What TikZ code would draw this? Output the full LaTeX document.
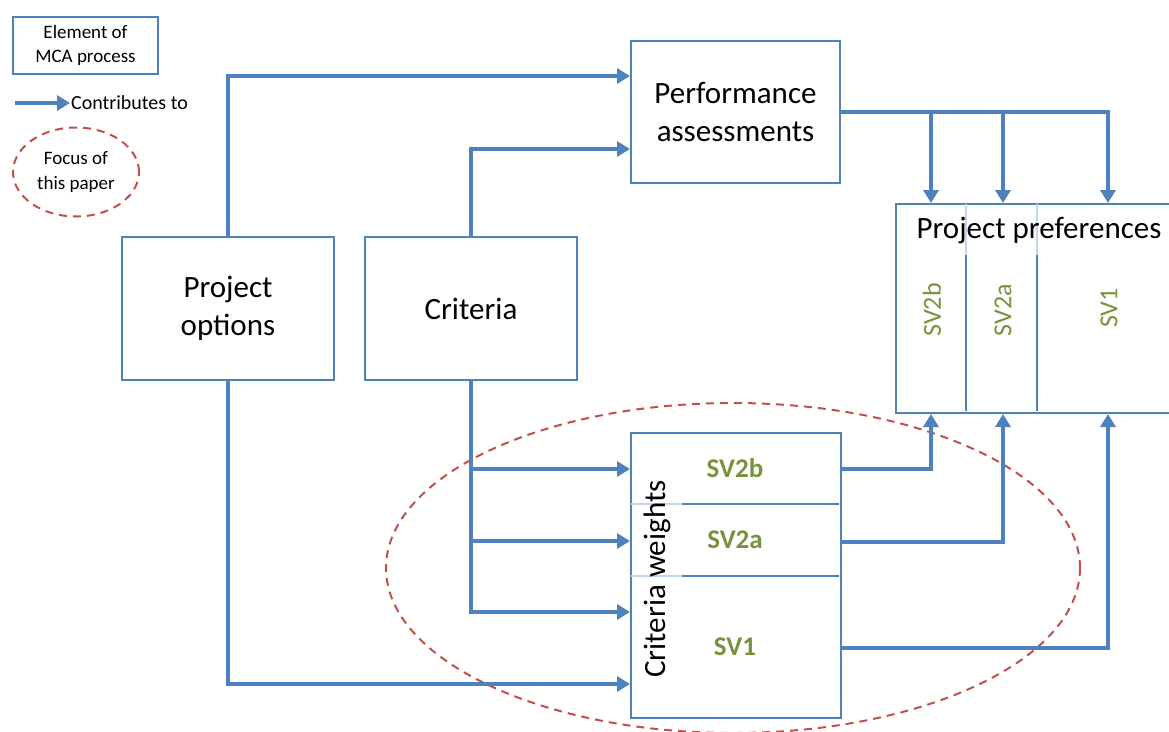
\documentclass[tikz,border=0pt]{standalone}
\usepackage{fontspec}
\setmainfont{Carlito}
\usetikzlibrary{arrows.meta,shapes.geometric}
\definecolor{mblue}{HTML}{4F81BD}
\definecolor{lblue}{HTML}{C5D5EA}
\definecolor{mred}{HTML}{C0504D}
\definecolor{mgreen}{HTML}{77933C}
\tikzset{
  box/.style={draw=mblue, line width=2pt, fill=white, align=center, inner sep=0pt, anchor=north west},
  arr/.style={draw=mblue, line width=3.4pt, -{Triangle[width=15pt,length=13pt]}},
  focus/.style={draw=mred, line width=2pt, dash pattern=on 8pt off 6pt},
  big/.style={font=\fontsize{31}{38}\selectfont},
  svb/.style={text=mgreen, font=\fontsize{27}{30}\selectfont\bfseries},
  svr/.style={text=mgreen, font=\fontsize{26}{30}\selectfont, rotate=90},
  divd/.style={draw=mblue, line width=2.2pt},
  divl/.style={draw=lblue, line width=2.2pt},
}
\begin{document}
\begin{tikzpicture}[x=1pt,y=-1pt]
\useasboundingbox (0,0) rectangle (1169,731);
% focus ellipse (behind)
\node[focus, ellipse, minimum width=694pt, minimum height=330pt] (focus) at (733,568) {};
% legend
\node[box, minimum width=145pt, minimum height=57pt, font=\fontsize{19}{24}\selectfont] (leg) at (12,16) {Element of\\MCA process};
\coordinate (la) at (15,103);
\node[anchor=west, inner sep=1pt, font=\fontsize{20}{24}\selectfont] (lt) at (70,103) {Contributes to};
\draw[arr] (la) -- (lt.west);
\node[focus, ellipse, minimum width=126pt, minimum height=89pt, align=center, inner sep=0pt, font=\fontsize{19}{25}\selectfont] (lf) at (76,172) {Focus of\\this paper};
% main boxes
\node[box, minimum width=209pt, minimum height=142pt, big] (perf) at (630,40) {Performance\\assessments};
\node[box, minimum width=212pt, minimum height=143pt, big] (opt) at (121,236) {Project\\options};
\node[box, minimum width=212pt, minimum height=143pt, big] (crit) at (364,236) {Criteria};
\node[box, minimum width=290pt, minimum height=209pt] (pp) at (895,203) {};
\node[box, minimum width=210pt, minimum height=285pt] (cw) at (630,432) {};
% dividers of project preferences
\draw[divl] (966,204) -- (966,255);
\draw[divd] (966,255) -- (966,411);
\draw[divl] (1037,204) -- (1037,255);
\draw[divd] (1037,255) -- (1037,411);
\node[font=\fontsize{31}{38}\selectfont, anchor=center] (pptitle) at (1039,230) {Project preferences};
\node[svr] (p2b) at (932,310) {SV2b};
\node[svr] (p2a) at (1003,310) {SV2a};
\node[svr] (p1) at (1109,308) {SV1};
% dividers of criteria weights
\draw[divl] (631,504) -- (682,504);
\draw[divd] (682,504) -- (839,504);
\draw[divl] (631,576) -- (682,576);
\draw[divd] (682,576) -- (839,576);
\node[big, rotate=90] (cwt) at (657,579) {Criteria weights};
\node[svb] (c2b) at (735,468) {SV2b};
\node[svb] (c2a) at (735,540) {SV2a};
\node[svb] (c1) at (735,647) {SV1};
% connectors
\draw[arr] (opt.north) |- ([yshift=36pt]perf.west);
\draw[arr] (crit.north) |- ([yshift=-37pt]perf.west);
\draw[arr] (perf.east) -| ([xshift=36pt]pp.north west);
\draw[arr] (perf.east) -| ([xshift=108pt]pp.north west);
\draw[arr] (perf.east) -| ([xshift=213pt]pp.north west);
\draw[arr] (crit.south) |- ([yshift=106.5pt]cw.west);
\draw[arr] (crit.south) |- ([yshift=34.5pt]cw.west);
\draw[arr] (crit.south) |- ([yshift=-36.5pt]cw.west);
\draw[arr] (opt.south) |- ([yshift=-108.5pt]cw.west);
\draw[arr] ([yshift=106.5pt]cw.east) -| ([xshift=36pt]pp.south west);
\draw[arr] ([yshift=33.5pt]cw.east) -| ([xshift=108pt]pp.south west);
\draw[arr] ([yshift=-72.5pt]cw.east) -| ([xshift=213pt]pp.south west);
\end{tikzpicture}
\end{document}
